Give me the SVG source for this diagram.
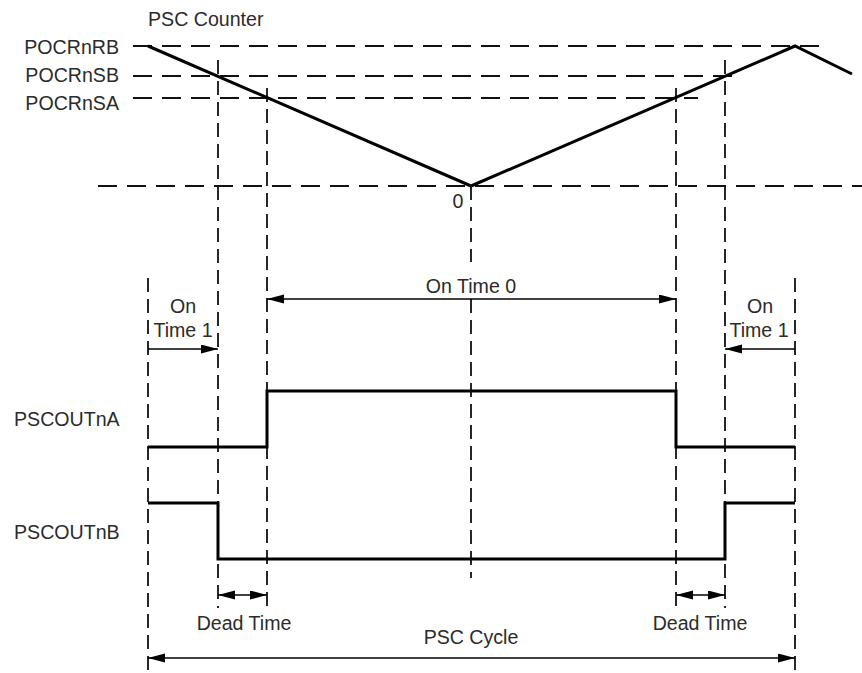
<svg xmlns="http://www.w3.org/2000/svg" width="862" height="673" viewBox="0 0 862 673">
<style>
text{font-family:"Liberation Sans",Arial,sans-serif;font-size:19.6px;fill:#2b2b2b}
.mid{text-anchor:middle}
.end{text-anchor:end}
.hd{stroke:#111;stroke-width:1.8;stroke-dasharray:19 10;fill:none}
.vd{stroke:#111;stroke-width:1.8;stroke-dasharray:14 7;fill:none}
.sig{stroke:#000;stroke-width:3;fill:none;stroke-linejoin:miter}
.arr{stroke:#000;stroke-width:1.6;fill:none}
.a1{marker-end:url(#ah)}
.a2{marker-start:url(#ah);marker-end:url(#ah)}
</style>
<defs>
<marker id="ah" markerUnits="userSpaceOnUse" markerWidth="18" markerHeight="10" refX="17" refY="4.5" orient="auto-start-reverse" viewBox="0 0 18 10">
<path d="M0,0 L17,4.5 L0,9 z" fill="#000"/>
</marker>
</defs>
<g id="guides">
<line class="hd" x1="133" y1="46" x2="825" y2="46"/>
<line class="hd" x1="133" y1="76" x2="742" y2="76"/>
<line class="hd" x1="133" y1="98" x2="698" y2="98"/>
<line class="hd" x1="98" y1="186" x2="862" y2="186"/>
<line class="vd" x1="148" y1="278" x2="148" y2="673"/>
<line class="vd" x1="218" y1="60" x2="218" y2="608"/>
<line class="vd" x1="267" y1="88" x2="267" y2="608"/>
<line class="vd" x1="471" y1="186" x2="471" y2="262"/>
<line class="vd" x1="471" y1="299" x2="471" y2="578"/>
<line class="vd" x1="676" y1="88" x2="676" y2="608"/>
<line class="vd" x1="725" y1="60" x2="725" y2="608"/>
<line class="vd" x1="795" y1="278" x2="795" y2="673"/>
</g>
<g id="counter">
<polyline class="sig" points="148,46 471,186 795,46 852,74"/>
</g>
<g id="pscoutna">
<polyline class="sig" points="148,447 267,447 267,391 676,391 676,447 795,447"/>
</g>
<g id="pscoutnb">
<polyline class="sig" points="148,503 218,503 218,559 725,559 725,503 795,503"/>
</g>
<g id="connectors">
<line class="arr a1" x1="148" y1="349" x2="218" y2="349"/>
<line class="arr a2" x1="267" y1="299" x2="676" y2="299"/>
<line class="arr a1" x1="795" y1="349" x2="725" y2="349"/>
<line class="arr a2" x1="218" y1="595" x2="267" y2="595"/>
<line class="arr a2" x1="676" y1="595" x2="725" y2="595"/>
<line class="arr a2" x1="148" y1="658" x2="795" y2="658"/>
</g>
<g id="labels">
<text x="148" y="26">PSC Counter</text>
<text class="end" x="119" y="54">POCRnRB</text>
<text class="end" x="119" y="82">POCRnSB</text>
<text class="end" x="119" y="110">POCRnSA</text>
<text class="mid" x="458" y="208">0</text>
<text class="mid" x="471" y="293">On Time 0</text>
<text class="mid" x="183" y="313">On</text>
<text class="mid" x="183" y="337">Time 1</text>
<text class="mid" x="760" y="313">On</text>
<text class="mid" x="759" y="337">Time 1</text>
<text x="14" y="426">PSCOUTnA</text>
<text x="14" y="539">PSCOUTnB</text>
<text class="mid" x="244" y="630">Dead Time</text>
<text class="mid" x="700" y="630">Dead Time</text>
<text class="mid" x="471" y="644">PSC Cycle</text>
</g>
</svg>
